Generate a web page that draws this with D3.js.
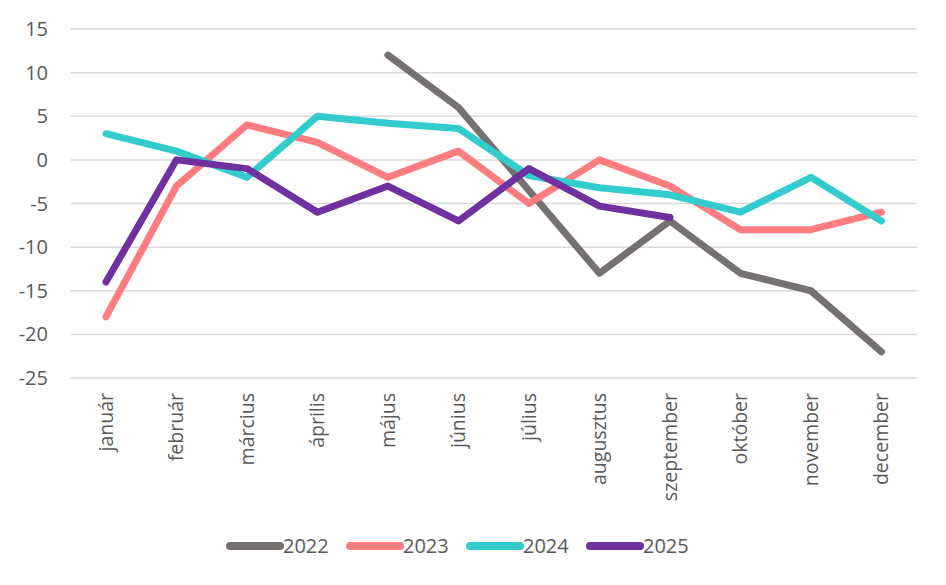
<!DOCTYPE html>
<html lang="hu">
<head>
<meta charset="utf-8">
<script src="https://d3js.org/d3.v7.min.js"></script>
<style>
  body { margin: 0; background: #fff; }
  svg text { font-family: "Open Sans", "Noto Sans", sans-serif; fill: #595959; }
</style>
</head>
<body>
<script>
// data
var months = ["január", "február", "március", "április", "május", "június",
              "július", "augusztus", "szeptember", "október", "november", "december"];
var years = ["2022", "2023", "2024", "2025"];
var v2022 = [null, null, null, null, 12, 6, -3.5, -13, -7, -13, -15, -22];
var v2023 = [-18, -3, 4, 2, -2, 1, -5, 0, -3, -8, -8, -6];
var v2024 = [3, 1, -2, 5, 4.2, 3.6, -1.8, -3.2, -4, -6, -2, -7];
var v2025 = [-14, 0, -1, -6, -3, -7, -1, -5.3, -6.6, null, null, null];
var yTicks = [15, 10, 5, 0, -5, -10, -15, -20, -25];
var colors = ["#767171", "#FF7C80", "#33CCCC", "#7030A0"];

var series = [v2022, v2023, v2024, v2025];

var width = 946, height = 585;
var svg = d3.select("body").append("svg").attr("width", width).attr("height", height);

var x = d3.scaleBand().domain(months).range([70.7, 916.7]).padding(0);
var y = d3.scaleLinear().domain([-25, 15]).range([378, 29]);

// gridlines
svg.append("g").selectAll("line").data(yTicks).join("line")
  .attr("x1", 70.7).attr("x2", 916.7)
  .attr("y1", d => y(d)).attr("y2", d => y(d))
  .attr("stroke", "#d9d9d9").attr("stroke-width", 1.5);

// y labels
svg.append("g").selectAll("text").data(yTicks).join("text")
  .attr("x", 48).attr("y", d => y(d)).attr("dy", "0.35em")
  .attr("text-anchor", "end").attr("font-size", 20)
  .text(d => d);

// x labels, rotated
svg.append("g").selectAll("text").data(months).join("text")
  .attr("transform", d => "translate(" + (x(d) + x.bandwidth() / 2) + ",393) rotate(-90)")
  .attr("text-anchor", "end").attr("dy", "0.35em").attr("font-size", 19.5)
  .text(d => d);

var line = d3.line()
  .defined(d => d != null)
  .x((d, i) => x(months[i]) + x.bandwidth() / 2)
  .y(d => y(d));

svg.append("g").selectAll("path").data(series).join("path")
  .attr("d", d => line(d))
  .attr("fill", "none")
  .attr("stroke", (d, i) => colors[i])
  .attr("stroke-width", 7)
  .attr("stroke-linecap", "round")
  .attr("stroke-linejoin", "round");

// legend
var leg = svg.append("g").selectAll("g").data(years).join("g")
  .attr("transform", (d, i) => "translate(" + (230 + i * 120) + ",546)");
leg.append("line")
  .attr("x1", 0).attr("x2", 50).attr("y1", 0).attr("y2", 0)
  .attr("stroke", (d, i) => colors[i]).attr("stroke-width", 8)
  .attr("stroke-linecap", "round");
leg.append("text")
  .attr("x", 53).attr("y", 0).attr("dy", "0.35em").attr("font-size", 20)
  .text(d => d);
</script>
</body>
</html>
